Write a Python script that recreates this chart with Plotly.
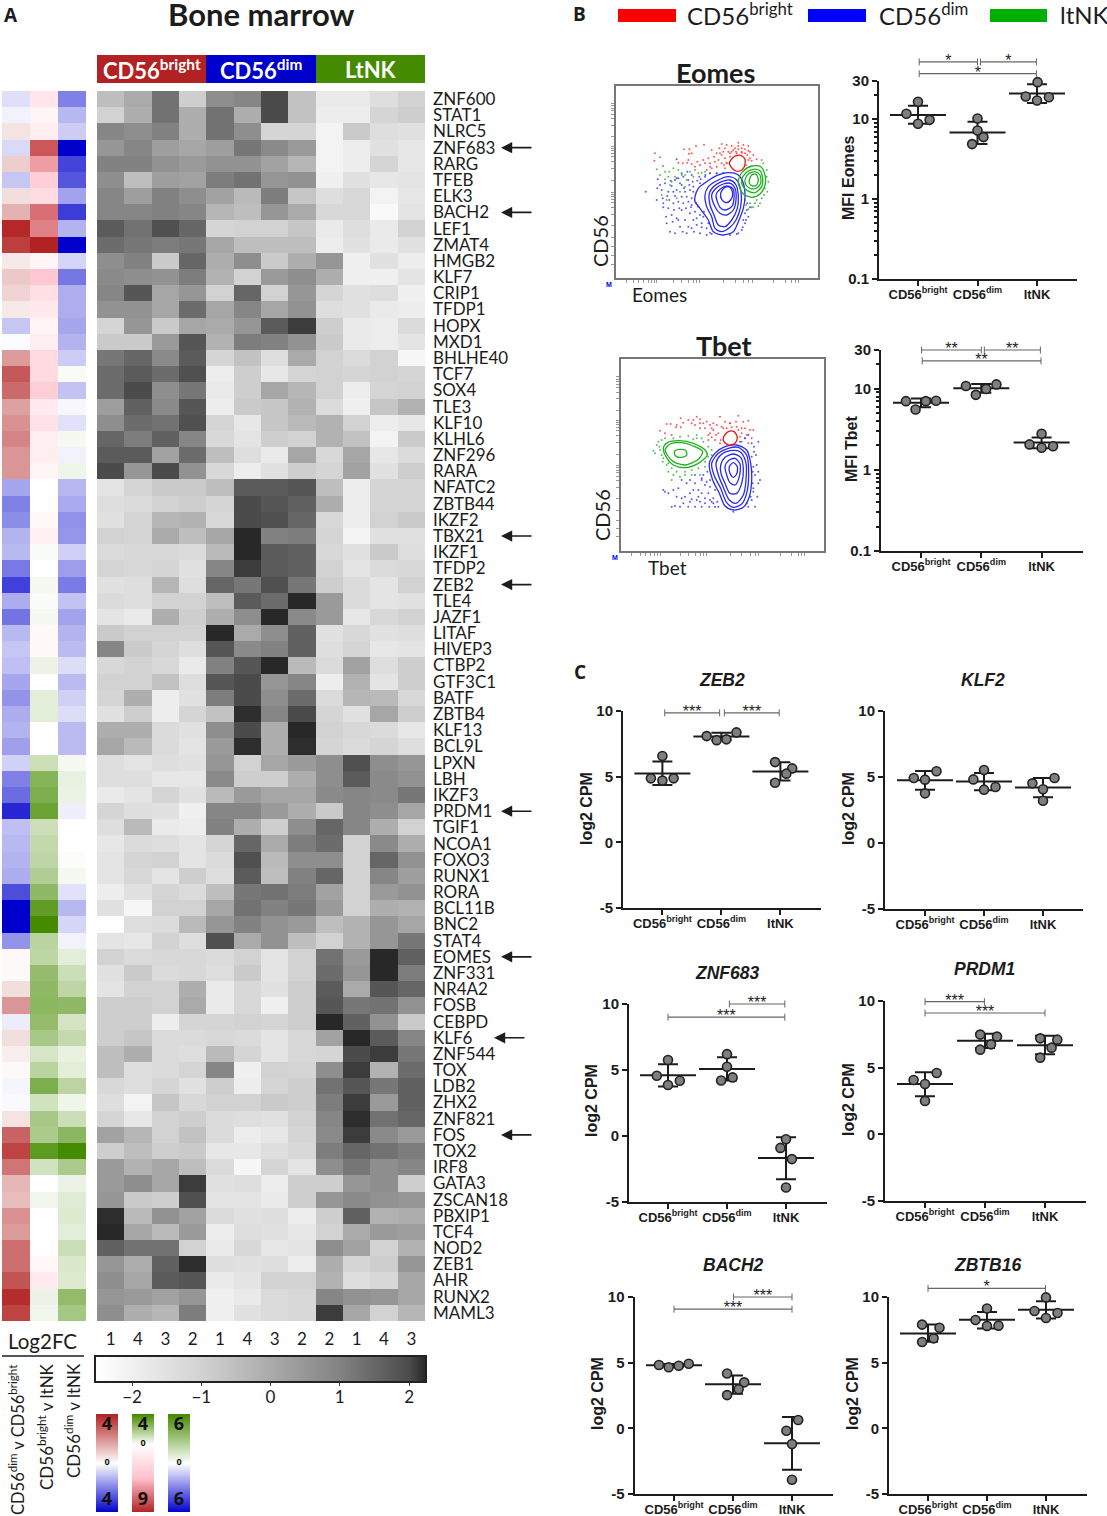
import plotly.graph_objects as go

W = 1107
H = 1516

genes = ["ZNF600","STAT1","NLRC5","ZNF683","RARG","TFEB","ELK3","BACH2","LEF1","ZMAT4","HMGB2","KLF7",
         "CRIP1","TFDP1","HOPX","MXD1","BHLHE40","TCF7","SOX4","TLE3","KLF10","KLHL6","ZNF296","RARA",
         "NFATC2","ZBTB44","IKZF2","TBX21","IKZF1","TFDP2","ZEB2","TLE4","JAZF1","LITAF","HIVEP3","CTBP2",
         "GTF3C1","BATF","ZBTB4","KLF13","BCL9L","LPXN","LBH","IKZF3","PRDM1","TGIF1","NCOA1","FOXO3",
         "RUNX1","RORA","BCL11B","BNC2","STAT4","EOMES","ZNF331","NR4A2","FOSB","CEBPD","KLF6","ZNF544",
         "TOX","LDB2","ZHX2","ZNF821","FOS","TOX2","IRF8","GATA3","ZSCAN18","PBXIP1","TCF4","NOD2",
         "ZEB1","AHR","RUNX2","MAML3"]
sample_labels = ["1","4","3","2","1","4","3","2","2","1","4","3"]
arrow_genes = ["ZNF683","BACH2","TBX21","ZEB2","PRDM1","EOMES","KLF6","FOS"]

# z scores, one row per gene: 4 bright, 4 dim, 4 ltNK
heat_z = [
 [-0.5,0.0,1.3,-0.9,0.7,0.9,2.0,-0.6,-1.8,-1.8,-1.4,-1.0],
 [-1.0,-0.1,1.3,-0.1,1.3,-0.1,2.0,-0.6,-1.9,-1.9,-1.1,-0.9],
 [0.9,0.7,1.0,-0.1,1.3,0.7,-1.1,-1.1,-2.1,-0.8,-1.4,-1.5],
 [0.5,0.9,0.3,0.1,0.3,1.2,0.8,0.4,-2.1,-1.9,-1.5,-1.7],
 [1.0,1.0,0.6,0.4,0.6,0.6,0.2,-0.3,-2.1,-1.9,-1.1,-1.7],
 [0.7,-0.5,0.3,0.2,1.1,1.3,0.5,0.6,-2.0,-1.5,-1.7,-1.6],
 [0.9,0.3,1.0,0.7,0.2,-0.4,1.1,-0.7,-1.4,-1.2,-2.1,-1.7],
 [0.9,0.9,1.0,0.9,-0.3,-0.5,0.5,0.0,-1.2,-1.2,-2.3,-1.6],
 [1.7,1.3,1.9,1.5,-1.1,-1.0,-1.0,-0.7,-1.8,-1.4,-1.8,-1.0],
 [1.4,1.2,1.1,1.2,0.1,-0.5,-0.5,-0.5,-1.9,-1.5,-1.8,-1.5],
 [0.7,1.0,-0.8,1.5,-0.1,0.7,-0.8,-0.1,0.5,-2.0,-1.5,-1.9],
 [0.8,0.7,0.6,1.1,-0.2,-1.0,0.4,0.7,-0.1,-2.0,-2.0,-1.6],
 [0.9,1.8,0.1,0.5,-1.0,1.5,-1.0,0.5,-1.1,-1.5,-1.4,-2.0],
 [0.6,0.6,0.1,1.4,0.1,0.9,0.1,0.6,-1.4,-1.5,-1.8,-1.9],
 [-1.1,0.5,-0.8,0.1,0.0,0.5,1.7,2.1,-0.9,-1.8,-1.9,-1.3],
 [-0.8,-0.8,0.4,1.8,-0.2,1.1,1.0,0.6,-0.8,-1.8,-1.9,-1.6],
 [1.2,1.5,0.8,1.7,-1.1,-0.6,-1.4,0.0,-1.0,-1.3,-1.0,-2.2],
 [1.4,1.7,1.4,1.9,-1.9,-0.9,-1.7,-1.1,-1.0,-1.1,-1.0,-1.1],
 [1.4,2.0,0.7,1.2,-1.8,-0.9,0.1,-0.3,-1.0,-1.9,-1.1,-1.0],
 [0.3,1.6,0.8,1.8,-1.9,-0.8,-0.7,-0.2,-1.3,-2.0,-0.7,-0.2],
 [0.7,1.4,1.3,1.9,-1.1,-1.7,-0.7,-0.4,-0.2,-1.0,-1.9,-1.7],
 [1.5,1.1,1.6,0.9,-1.2,-1.6,-0.9,-1.0,-0.2,-0.6,-2.1,-0.8],
 [1.7,1.7,0.2,1.4,-0.5,-1.4,-1.8,0.1,-1.2,0.1,-1.7,-1.3],
 [2.0,0.5,2.0,0.6,-1.2,-1.9,-1.5,-0.9,-1.1,0.2,-1.5,-0.9],
 [-1.6,-1.1,-0.8,-0.8,-0.5,1.7,1.7,1.8,-0.5,-1.9,-1.1,-1.1],
 [-1.4,-1.3,-1.0,-0.9,-1.1,2.0,1.8,1.6,-0.1,-1.9,-1.1,-1.1],
 [-1.5,-1.1,-0.3,-0.2,-1.2,2.0,1.9,1.5,-1.2,-1.9,-1.0,-0.8],
 [-1.0,-1.1,0.0,-0.5,0.1,2.4,1.0,1.1,-1.1,-2.1,-1.5,-1.5],
 [-1.3,-1.2,-1.2,-1.3,-0.4,2.6,1.7,1.6,-1.2,-1.5,-0.8,-1.4],
 [-1.1,-1.2,-1.1,-1.5,0.9,2.1,1.7,1.6,-1.0,-1.6,-1.3,-1.2],
 [-1.5,-1.4,-0.3,-1.4,1.5,1.2,1.9,1.2,-0.9,-1.3,-1.6,-1.0],
 [-1.3,-1.4,-1.0,-1.0,-0.5,1.7,1.4,2.3,0.4,-1.3,-1.6,-1.5],
 [-1.6,-1.8,-0.1,-0.9,-0.1,0.7,2.6,0.8,0.4,-1.7,-1.2,-1.0],
 [-0.8,-1.0,-1.0,-1.0,3.0,0.0,0.7,1.6,-1.5,-1.2,-1.5,-1.4],
 [0.9,-0.8,-1.1,-1.4,1.8,0.8,1.0,1.6,-1.4,-1.1,-1.7,-1.6],
 [-1.2,-1.0,-1.2,-1.8,1.0,1.8,2.3,-0.4,-1.3,0.2,-1.4,-0.9],
 [-1.0,-1.0,-0.6,-1.4,1.8,2.0,0.5,0.9,-1.9,-0.2,-1.6,-0.9],
 [-1.1,-0.1,-1.9,-1.5,1.1,2.0,0.7,1.4,-1.3,-0.3,-0.4,-1.2],
 [-1.5,-0.9,-1.9,-1.1,-0.6,2.2,0.9,2.0,-1.1,-1.5,0.1,-0.9],
 [-0.1,-0.1,-1.3,-1.5,0.7,2.0,-0.1,2.5,-1.0,-1.2,-1.3,-1.7],
 [0.1,-0.4,-1.3,-1.6,0.4,2.2,-0.1,2.2,-1.1,-1.3,-1.1,-1.4],
 [-1.4,-1.6,-1.4,-1.5,0.5,-1.0,0.1,0.4,0.7,1.9,0.7,0.5],
 [-1.4,-1.4,-1.7,-1.7,0.8,-0.9,-0.9,-0.1,0.7,1.7,0.8,0.6],
 [-1.8,-1.6,-1.1,-1.5,-0.4,0.4,0.1,0.1,0.8,0.9,0.8,1.2],
 [-1.1,-1.4,-1.5,-2.0,0.9,0.9,0.4,-0.1,-0.8,0.9,0.7,0.1],
 [-1.4,-0.4,-1.8,-1.9,1.0,-0.1,-0.9,0.7,1.5,0.9,-0.1,-1.0],
 [-1.7,-1.3,-1.4,-1.6,-1.1,1.5,0.0,1.1,1.4,-1.0,0.8,-0.1],
 [-1.6,-1.1,-1.0,-1.6,-1.3,1.9,-0.4,0.7,0.7,-1.0,1.5,0.6],
 [-1.6,-1.2,-1.6,-0.9,-1.4,1.7,-0.5,1.0,1.5,-1.0,0.9,0.3],
 [-1.9,-1.5,-1.1,-1.3,-0.5,1.2,1.3,1.1,0.2,-1.0,0.4,0.6],
 [-1.5,-2.2,-1.0,-1.0,0.1,1.3,1.0,1.2,0.4,-1.0,-0.1,-0.2],
 [-2.5,-1.4,-1.3,-0.4,0.5,1.0,0.6,0.4,-0.5,-0.2,0.5,0.1],
 [-1.6,-1.7,-1.0,-1.4,1.9,0.0,0.6,-0.5,-1.0,-0.2,0.5,1.2],
 [-1.0,-1.3,-1.2,-1.2,-1.3,-1.0,-1.6,-1.0,1.3,0.4,2.5,1.6],
 [-1.5,-0.8,-1.3,-1.2,-1.4,-0.8,-1.6,-1.0,1.4,0.5,2.5,1.1],
 [-1.6,-1.0,-1.0,-0.1,-1.8,-1.2,-1.5,-0.9,1.7,0.0,1.8,1.5],
 [-0.9,-0.9,-1.0,0.0,-1.8,-1.2,-2.0,-0.9,1.8,1.2,1.3,0.6],
 [-0.9,-0.9,-1.9,-1.1,-1.1,-1.0,-1.1,-0.9,3.0,1.6,0.6,-0.8],
 [-0.9,-0.7,-1.3,-1.3,-1.2,-1.3,-1.6,-1.2,0.2,2.5,1.7,0.9],
 [-0.5,-0.1,-1.3,-1.4,-0.4,-1.1,-1.6,-1.2,-1.1,2.0,2.1,1.2],
 [-0.5,-1.4,-1.3,-1.1,0.9,-2.0,-1.0,-1.1,0.7,2.1,-0.2,1.4],
 [-1.2,-1.4,-1.1,-1.5,-0.9,-1.9,-1.1,-0.9,1.3,1.8,1.2,1.6],
 [-1.4,-2.1,-0.7,-1.2,-1.0,-1.0,-0.8,-0.9,1.1,2.1,0.4,1.6],
 [-1.1,-1.7,-1.0,-0.9,-1.3,-1.4,-1.5,-1.0,0.9,2.2,1.3,1.5],
 [0.2,-0.3,-1.0,-0.6,-1.3,-1.9,-1.7,-1.1,0.8,2.1,0.8,0.4],
 [-0.9,-0.5,-0.9,-0.8,-1.7,-1.7,-1.4,-1.2,1.1,1.5,1.3,1.1],
 [0.4,-0.2,0.1,-0.5,-1.3,-2.2,-1.1,-1.6,0.7,1.2,0.7,0.9],
 [0.4,0.7,0.1,2.1,-1.5,-1.4,-1.9,-0.9,-0.9,0.5,0.7,-0.9],
 [0.5,-0.8,-0.9,1.9,-1.6,-1.6,-1.8,-0.9,0.5,0.8,0.6,0.5],
 [2.2,-0.4,0.6,0.2,-1.3,-1.5,-1.4,-1.9,-0.9,1.6,-0.2,-0.1],
 [2.6,0.1,-0.4,0.4,-1.9,-1.4,-1.5,-1.7,-1.0,0.0,0.4,0.3],
 [1.6,1.3,1.3,-1.0,-1.8,-1.2,-1.7,-1.6,0.7,0.2,-1.0,-0.2],
 [0.5,-0.1,1.6,2.2,-1.4,-1.5,-1.4,-1.9,-0.1,-1.1,-0.9,0.5],
 [0.7,0.1,1.7,1.8,-1.8,-1.6,-1.0,-1.0,-0.2,-1.4,-1.2,0.1],
 [0.5,0.4,0.2,0.5,-2.0,-1.8,-1.3,-1.2,0.9,0.6,0.5,0.1],
 [0.7,-0.1,-0.3,1.1,-2.0,-1.5,-1.3,-1.2,2.1,0.1,-1.0,-0.3],
]

# log2FC columns
fc_dim_bright = [-0.5,-0.2,0.5,-0.6,0.9,-0.9,0.6,1.4,3.9,3.5,0.4,1.0,0.8,0.4,-0.9,-0.05,1.8,3.0,2.7,1.7,2.0,2.2,1.9,1.9,
                 -1.4,-2.0,-1.8,-1.2,-1.1,-2.1,-3.0,-1.3,-2.2,-1.1,-0.9,-1.0,-1.4,-1.7,-1.3,-1.2,-1.5,-0.7,-2.0,-2.3,-3.4,
                 -1.0,-1.1,-1.2,-1.3,-2.8,-4.0,-4.0,-1.7,0.1,0.1,0.6,1.9,-0.3,0.6,0.3,0.1,-0.15,-0.1,0.5,2.8,3.4,2.5,1.3,1.2,
                 2.0,1.8,2.6,2.6,3.1,3.8,3.4]
fc_bright_lt = [-1.8,-0.8,-1.2,-7.5,-5.5,-3.5,-2.5,-6.8,-6.3,-9.0,-0.8,-4.0,-2.3,-1.6,-0.7,-1.2,-2.6,-2.6,-3.6,-1.4,-2.1,-1.2,-1.3,-0.8,
                -0.1,-0.1,-0.5,-1.0,0.1,-0.05,0.2,0.1,0.2,-0.4,-0.4,0.4,0.0,0.6,0.6,-0.05,0.0,1.1,2.6,2.8,3.2,
                1.1,1.3,1.4,1.7,2.4,3.4,4.0,1.5,1.4,2.3,2.4,2.5,2.3,1.9,0.9,1.5,2.8,1.0,1.9,1.8,3.5,1.0,-0.1,0.3,
                -0.15,-0.1,-0.15,-0.6,-1.4,0.4,0.3]
fc_dim_lt = [-3.0,-1.7,-1.2,-6.0,-4.4,-4.0,-2.2,-4.6,-1.8,-6.0,-1.0,-3.2,-1.9,-1.9,-2.1,-1.8,-1.2,0.2,-1.4,-0.2,-0.7,0.3,-0.3,0.5,
             -1.7,-2.0,-2.6,-2.5,-1.1,-2.3,-3.1,-1.4,-2.2,-1.8,-1.6,-0.8,-1.6,-1.1,-0.8,-1.6,-1.6,0.3,0.7,0.6,-0.4,
             0.0,0.0,0.1,0.3,-0.7,-1.7,-1.0,-0.3,0.9,1.7,2.1,3.6,1.4,1.9,0.7,0.9,2.2,0.5,1.7,3.7,6.0,2.7,0.6,1.0,
             1.1,0.9,1.7,1.2,1.1,3.5,2.9]

# gray colour scale stops of the z score bar
gray_z = [-2.52,-2,-1,0,1,2,2.23]
gray_level = [255,240,210,170,130,75,40]

# flow plots, channels
eomes_red_x = [135,150,133,159,222,238,258,282,237,245,205,218,232,245,262,280,295,305,315,328,335,350,365,385,340,335,345,355,370,380,385,395,405,415,420,430,412,425,440,335,320,305,290,345,350,408,300,312,325,360,395,
               345,360,375,385,395,400,415,420,350,365,378,405,415,330,342,320,300,285,270,255,235]
eomes_red_y = [100,112,122,138,88,88,78,74,101,100,128,130,128,132,125,120,115,90,125,85,72,75,78,68,95,105,115,95,90,100,88,85,88,78,95,105,105,122,118,130,140,145,150,145,128,135,130,110,120,110,95,
               85,100,85,78,98,75,92,115,130,95,95,100,120,100,135,100,140,130,135,140,120]
eomes_green_x = [140,165,178,190,205,215,240,255,275,300,320,165,185,180,155,200,170,210,230,455,460,470,475,472,455,440,420,430,415,445,408,462,225,250,
                 150,175,195,225,265,285,435,450,425,405,470,465]
eomes_green_y = [148,155,155,145,150,165,155,150,158,160,160,178,185,195,225,235,240,215,180,120,130,150,185,215,235,240,250,262,268,258,255,225,200,170,
                 165,170,170,165,160,155,250,250,262,240,170,205]
eomes_blue_x = [107,143,142,155,158,140,160,175,190,200,182,195,205,220,235,245,215,200,225,240,205,220,235,245,215,200,185,170,180,195,210,225,240,255,260,275,245,230,270,290,300,265,245,230,215,190,175,260,280,250,410,415,405,395,385,360,405,400,270,250,
                150,165,172,185,195,210,222,238,250,262,272,285,160,178,192,208,228,243,258,270,282,295,168,188,205,218,235,252,275,290,305,200,215,232,248,268,286,300,320,340,380,398,412,420,408]
eomes_blue_y = [215,178,205,210,235,240,262,265,250,118,182,180,175,170,180,165,195,210,215,210,245,250,245,235,270,295,285,310,335,340,320,300,280,275,295,310,325,340,340,325,338,260,255,230,230,215,215,315,290,300,270,290,310,330,340,345,280,300,190,200,
                195,190,228,198,228,190,205,195,215,182,178,170,250,240,270,265,265,262,248,285,275,310,290,305,300,335,320,335,322,345,342,175,160,155,185,170,165,160,160,158,342,322,250,262,300]
eomes_blue_lines = [
 ([255,265,290,320,355,385,400,405,400,385,370,340,310,295,270,255,255],[230,205,185,167,158,165,190,230,265,305,335,345,335,300,265,245,230]),
 ([285,295,325,355,380,393,392,378,360,335,315,305,290,285],[225,200,180,170,180,215,260,300,322,335,325,290,260,225]),
 ([298,310,335,360,378,385,382,365,345,325,312,300,298],[220,200,185,180,195,230,265,300,320,315,285,255,220]),
 ([305,318,340,362,375,378,370,350,330,315,305],[225,205,192,190,205,240,270,285,280,260,225]),
 ([318,330,350,368,372,365,345,330,318],[225,208,198,205,235,260,270,262,225]),
 ([332,345,360,368,362,348,335,332],[220,202,202,220,240,248,238,220]),
]
eomes_red_lines = [
 ([358,372,392,405,403,390,372,358],[130,110,106,118,140,153,150,130]),
]
eomes_green_lines = [
 ([385,398,425,452,465,465,450,425,400,388,385],[180,155,138,140,165,195,222,232,222,200,180]),
 ([395,408,430,450,458,455,435,412,398,395],[180,158,148,152,175,200,218,212,198,180]),
 ([405,415,435,450,452,438,420,408,405],[180,162,155,165,190,205,205,195,180]),
 ([418,425,438,445,440,428,418,418],[180,165,163,178,195,198,190,180]),
]
eomes_ticks_x = [50,70,85,100,115,125,133,138,190,215,235,250,260,267,340,375,400,415,426,490,525,545,555,564]
eomes_ticks_y = [-50,-43,-36,-28,-18,-5,15,50,78,85,92,100,110,125,145,180,216,223,230,238,248,262,282,316,351,380,405,432]

tbet_red_x = [110,122,152,138,152,90,105,125,185,190,200,210,220,230,240,250,270,285,300,325,340,355,345,360,370,350,365,335,355,250,265,240,255,270,235,320,335,280,210,
              245,260,275,290,305,325,335,345,258,272,300,318,330,225,235,245,210,195,175,160,140]
tbet_red_y = [72,72,55,82,82,92,100,105,70,60,50,58,70,65,75,70,50,65,70,47,65,62,85,90,90,105,115,125,130,90,100,100,120,130,120,80,100,85,85,
              85,75,80,85,82,90,85,115,105,120,70,65,110,85,105,112,70,75,60,68,75]
tbet_green_x = [70,85,88,95,98,110,125,115,140,165,185,205,225,130,150,175,190,200,220,235,245,215,80,150,185,210,125,
                75,95,105,115,90,100,130,165,200,225,235,245]
tbet_green_y = [152,125,140,165,185,195,205,215,215,215,210,205,200,115,110,108,118,105,125,140,150,115,135,230,225,225,240,
                160,120,115,190,150,175,225,225,115,185,170,165]
tbet_blue_x = [100,105,125,135,130,145,155,175,185,200,215,225,235,245,255,155,170,195,215,225,205,220,355,375,365,370,385,375,370,365,385,372,380,368,350,240,265,
               115,140,150,165,180,190,205,215,230,240,250,262,160,180,195,210,225,238,365,372,378,385,368,362,390,355,345,330,310,250,240,195,215,232,180,255,370,382]
tbet_blue_y = [270,275,320,318,270,265,295,320,298,300,320,295,280,305,320,240,250,250,240,255,270,225,320,320,300,275,250,225,200,170,125,155,195,250,310,260,320,
               280,290,320,290,280,270,290,280,245,240,295,305,310,305,320,305,310,320,130,140,165,215,215,290,240,105,115,125,335,310,300,225,235,215,240,270,265,290]
tbet_blue_lines = [
 ([238,255,285,320,350,362,365,358,340,310,285,268,248,238],[190,160,140,135,150,190,240,290,322,330,318,280,240,190]),
 ([245,265,295,325,350,356,350,335,310,290,272,252,245],[190,160,145,142,165,220,280,312,322,308,265,225,190]),
 ([258,272,300,330,347,348,340,318,298,280,265,258],[190,165,152,155,185,240,285,310,300,262,225,190]),
 ([272,285,310,332,340,335,320,300,285,273,272],[195,172,162,172,205,250,280,280,250,220,195]),
 ([285,295,315,330,328,315,300,290,285],[200,182,175,192,230,255,248,225,200]),
 ([298,310,322,320,310,300,298],[200,188,200,222,232,220,200]),
]
tbet_red_lines = [
 ([280,295,312,322,315,295,282,280],[112,95,95,112,130,135,125,112]),
]
tbet_green_lines = [
 ([100,112,150,190,225,232,205,165,130,108,100],[145,128,122,130,150,165,190,203,195,170,145]),
 ([105,120,155,190,218,205,165,130,112,105],[150,132,128,138,155,178,195,185,165,150]),
 ([133,135,150,168,170,155,140,133],[160,152,148,152,165,172,170,160]),
]
tbet_ticks_x = [5,30,45,60,72,82,92,150,175,195,210,220,228,300,335,360,375,384,450,485,505,515,522]
tbet_ticks_y = [-70,-62,-55,-47,-37,-24,-4,30,60,67,74,82,92,107,127,162,196,203,210,218,228,242,262,296,332,360,385,410]

# dot plots: values, jitter, mean and SD limits per group
group_labels = ["CD56<sup>bright</sup>","CD56<sup>dim</sup>","ltNK"]

eomes_vals = [[16.5,11.7,9.8,8.75],[10.2,7.2,5.96,4.87],[29,19.2,18.8,17.1]]
eomes_off = [[0,-0.195,0.195,0],[0,0,0.1,-0.09],[0.01,-0.19,0.2,0]]
eomes_mean = [11.3,6.8,20.9]
eomes_top = [14.7,9.3,27.4]
eomes_bot = [8.75,4.9,15.9]
eomes_brk = [(0.02,1,52,"*"),(1.05,1.99,52,"*"),(0.02,1.99,37,"*")]

tbet_vals = [[7.03,7.03,7.1,5.54],[10.8,11.3,9.9,8.4],[2.79,2.06,1.95,1.87]]
tbet_off = [[-0.25,0.08,0.25,-0.09],[-0.255,0.25,0.08,-0.09],[0,-0.2,0.19,0]]
tbet_mean = [6.7,10.1,2.18]
tbet_top = [7.6,11.4,2.5]
tbet_bot = [5.9,8.9,1.84]
tbet_brk = [(0.01,1,30,"**"),(1.05,1.98,30,"**"),(0.02,1.99,22,"**")]

zeb2_vals = [[6.57,4.87,4.87,4.7],[8.09,7.78,7.84,8.37],[6.11,5.63,5.23,4.54]]
zeb2_off = [[0,-0.195,0.19,0],[-0.25,-0.08,0.085,0.255],[-0.09,0.2,0.1,-0.09]]
zeb2_mean = [5.25,8.05,5.4]
zeb2_top = [6.15,8.34,6.1]
zeb2_bot = [4.37,7.78,4.7]
zeb2_brk = [(0.04,0.97,9.86,"***"),(1.05,1.98,9.86,"***")]

klf2_vals = [[4.92,5.43,4.8,3.76],[4.82,5.53,4.04,4.24],[4.52,4.92,4.07,3.2]]
klf2_off = [[-0.19,0.195,0,0],[-0.18,0,0,0.195],[-0.18,0.195,0,0]]
klf2_mean = [4.75,4.65,4.2]
klf2_top = [5.45,5.3,4.92]
klf2_bot = [4.04,4.0,3.46]
klf2_brk = []

znf683_vals = [[5.76,4.57,4.19,3.86],[6.2,5.25,4.44,4.2],[-0.25,-0.9,-1.75,-3.9]]
znf683_off = [[0,-0.19,0.2,0],[0,0,0.095,-0.1],[0,-0.095,0.1,0]]
znf683_mean = [4.6,5.08,-1.67]
znf683_top = [5.43,5.96,-0.1]
znf683_bot = [3.75,4.2,-3.27]
znf683_brk = [(1.04,1.98,10,"***"),(0,1.98,9,"***")]

prdm1_vals = [[4.07,4.6,3.77,2.5],[7.48,7.33,6.75,6.35],[7.2,7.1,6.5,5.75]]
prdm1_off = [[-0.19,0.195,0,0],[-0.08,0.2,0.1,-0.08],[-0.08,0.205,0.11,-0.08]]
prdm1_mean = [3.77,7.02,6.68]
prdm1_top = [4.65,7.55,7.4]
prdm1_bot = [2.86,6.47,6.0]
prdm1_brk = [(0,0.99,9.95,"***"),(0,2,9.1,"***")]

bach2_vals = [[4.82,4.65,4.77,4.92],[4.17,3.5,2.98,2.53],[0.63,-0.18,-1.19,-3.92]]
bach2_off = [[-0.255,-0.09,0.08,0.25],[-0.1,0.19,0.095,-0.1],[0.105,-0.095,0,0]]
bach2_mean = [4.8,3.35,-1.14]
bach2_top = [4.9,4.02,0.86]
bach2_bot = [4.68,2.63,-3.16]
bach2_brk = [(1.01,2,10,"***"),(0,2,9.07,"***")]

zbtb16_vals = [[7.9,7.66,6.85,6.57],[9.13,8.25,7.8,7.82],[9.97,8.93,8.78,8.4]]
zbtb16_off = [[-0.1,0.195,0.095,-0.1],[0,-0.195,0,0.195],[0,-0.195,0.195,0]]
zbtb16_mean = [7.23,8.27,9.03]
zbtb16_top = [7.9,8.86,9.67]
zbtb16_bot = [6.6,7.6,8.37]
zbtb16_brk = [(0,1.99,10.65,"*")]

LATO = "Lato"
ARIAL = "Liberation Sans"
INK = "#1c1c1c"
HIDDEN = dict(showticklabels=False, ticks="", showline=False)

fig = go.Figure()
layout = dict(width=W, height=H, autosize=False, margin=dict(l=0, r=0, t=0, b=0),
              paper_bgcolor="white", plot_bgcolor="rgba(0,0,0,0)", showlegend=False,
              shapes=[], annotations=[])
n_axes = 0


def new_axes(x0, x1, y0, y1, xargs, yargs):
    global n_axes
    n_axes += 1
    n = n_axes
    # automargin off, the default template would shrink the page otherwise
    base = dict(showgrid=False, zeroline=False, automargin=False)
    layout[f"xaxis{n}"] = dict(base, domain=[x0 / W, x1 / W], anchor=f"y{n}", **xargs)
    layout[f"yaxis{n}"] = dict(base, domain=[1 - y1 / H, 1 - y0 / H], anchor=f"x{n}", **yargs)
    return f"x{n}", f"y{n}"


# whole page axes in pixels, paper referenced notes near the edge would push the margins
PAGE_X, PAGE_Y = new_axes(0, W, 0, H, dict(range=[0, W], **HIDDEN), dict(range=[H, 0], **HIDDEN))


def note(x, y, text, size, font=LATO, angle=0, anchor="center", color=INK):
    layout["annotations"].append(dict(x=x, y=y, xref=PAGE_X, yref=PAGE_Y, text=text,
                                      showarrow=False, textangle=angle, xanchor=anchor, yanchor="middle",
                                      font=dict(family=font, size=size, color=color)))


def rect(x0, x1, y0, y1, color):
    layout["shapes"].append(dict(type="rect", xref="paper", yref="paper", x0=x0 / W, x1=x1 / W,
                                 y0=1 - y1 / H, y1=1 - y0 / H, fillcolor=color, line=dict(width=0)))


# main heatmap
gray_scale = [[(z - gray_z[0]) / (gray_z[-1] - gray_z[0]), f"rgb({g},{g},{g})"] for z, g in zip(gray_z, gray_level)]
xa, ya = new_axes(97, 425, 91, 1321,
                  dict(tickmode="array", tickvals=list(range(12)), ticktext=sample_labels, ticks="",
                       ticklabelstandoff=6, tickangle=0,
                       tickfont=dict(family=LATO, size=17, color=INK), side="bottom"),
                  dict(type="category", autorange="reversed", side="right", tickmode="array", tickvals=genes,
                       ticktext=genes, ticks="", ticklabelstandoff=7,
                       tickfont=dict(family=LATO, size=17, color=INK)))
fig.add_trace(go.Heatmap(z=heat_z, x=list(range(12)), y=genes, xaxis=xa, yaxis=ya, colorscale=gray_scale,
                         zmin=gray_z[0], zmax=gray_z[-1], showscale=False))

for gene in arrow_genes:
    x_tip = 494 if gene == "KLF6" else 501
    layout["annotations"].append(dict(x=x_tip, y=gene, xref=PAGE_X, yref=ya, ax=32, ay=0, axref="pixel",
                                      ayref="pixel", text="", showarrow=True, arrowhead=2, arrowsize=1.4,
                                      arrowwidth=1.6, arrowcolor=INK))

# z score bar
xa, ya = new_axes(96, 425, 1357, 1381,
                  dict(range=[gray_z[0], gray_z[-1]], showline=True, mirror=True, linecolor="#222222", linewidth=2,
                       tickmode="array", tickvals=[-2, -1, 0, 1, 2], ticktext=["\u22122", "\u22121", "0", "1", "2"],
                       ticks="outside", ticklen=3, tickangle=0, ticklabelstandoff=-3,
                       tickfont=dict(family=LATO, size=17, color=INK)),
                  dict(range=[0, 1], showline=True, mirror=True, linecolor="#222222", linewidth=2,
                       showticklabels=False, ticks=""))
fig.add_trace(go.Heatmap(z=[gray_z, gray_z], x=gray_z, y=[0, 1], xaxis=xa, yaxis=ya, colorscale=gray_scale,
                         zmin=gray_z[0], zmax=gray_z[-1], showscale=False, zsmooth="best"))

# log2FC columns
fc_scales = [
    (fc_dim_bright, -4, 4, [[0, "#0000cd"], [0.5, "#ffffff"], [1, "#b22222"]]),
    (fc_bright_lt, -9, 4, [[0, "#b22222"], [4.5 / 13, "#ffc0cb"], [9 / 13, "#ffffff"], [1, "#458b00"]]),
    (fc_dim_lt, -6, 6, [[0, "#0000cd"], [0.5, "#ffffff"], [1, "#458b00"]]),
]
xa, ya = new_axes(2, 86, 91, 1321, dict(range=[-0.5, 2.5], **HIDDEN),
                  dict(type="category", autorange="reversed", **HIDDEN))
for i, (vals, lo, hi, scale) in enumerate(fc_scales):
    fig.add_trace(go.Heatmap(z=[[v] for v in vals], x=[i], y=genes, xaxis=xa, yaxis=ya, colorscale=scale,
                             zmin=lo, zmax=hi, showscale=False))

# group header
header_names = ["CD56<sup>bright</sup>", "CD56<sup>dim</sup>", "LtNK"]
header_colors = ["#b22222", "#0000cd", "#458b00"]
header_edges = [97, 206, 316, 425]
for i in range(3):
    rect(header_edges[i], header_edges[i + 1], 55, 83, header_colors[i])
    note((header_edges[i] + header_edges[i + 1]) / 2, 69, f"<b>{header_names[i]}</b>", 22, color="white")

note(261, 14, "<b>Bone marrow</b>", 31)
note(11, 15, "<b>A</b>", 19, font="Open Sans")
note(579, 14, "<b>B</b>", 19, font="Open Sans")
note(580, 672, "<b>C</b>", 19, font="Open Sans")

# log2FC key
note(42, 1341, "Log2FC", 20.5)
layout["shapes"].append(dict(type="line", xref="paper", yref="paper", x0=2 / W, x1=84 / W, y0=1 - 1356 / H,
                             y1=1 - 1356 / H, line=dict(color=INK, width=1.5)))
note(17, 1440, "CD56<sup>dim</sup> v CD56<sup>bright</sup>", 16.5, angle=-90)
note(45, 1427, "CD56<sup>bright</sup> v ltNK", 17, angle=-90)
note(72, 1421, "CD56<sup>dim</sup> v ltNK", 17, angle=-90)

key_edges = [(96, 118), (132, 154), (168, 190)]
key_z = [[-4, 0, 4], [-9, -4.5, 0, 4], [-6, 0, 6]]
key_text = [["4", "0", "4"], ["9", "0", "4"], ["6", "0", "6"]]
for (x0, x1), zs, (vals, lo, hi, scale), txt in zip(key_edges, key_z, fc_scales, key_text):
    xa, ya = new_axes(x0, x1, 1414, 1512, dict(range=[0, 1], **HIDDEN), dict(range=[lo, hi], **HIDDEN))
    fig.add_trace(go.Heatmap(z=[[v, v] for v in zs], x=[0, 1], y=zs, xaxis=xa, yaxis=ya, colorscale=scale,
                             zmin=lo, zmax=hi, showscale=False, zsmooth="best"))
    step = (hi - lo) * 0.115
    fig.add_trace(go.Scatter(x=[0.5, 0.5, 0.5], y=[lo + step, 0, hi - step], mode="text", text=txt,
                             xaxis=xa, yaxis=ya, textposition="middle center",
                             textfont=dict(family="Open Sans", size=[18, 9, 18], color="#111111", weight="bold")))

# legend of panel B
legend_names = ["CD56<sup>bright</sup>", "CD56<sup>dim</sup>", "ltNK"]
legend_colors = ["#ff0000", "#0000ff", "#00b000"]
legend_rect = [(618, 676), (808, 866), (990, 1047)]
legend_text = [685, 877, 1058]
for name, col, (x0, x1), tx in zip(legend_names, legend_colors, legend_rect, legend_text):
    rect(x0, x1, 9, 22, col)
    note(tx, 14, name, 24, anchor="left")


def flow_panel(box, zoom_x, zoom_y, ticks_x, ticks_y, red, green, blue, red_lines, green_lines, blue_lines):
    xa, ya = new_axes(box[0], box[1], box[2], box[3],
                      dict(range=zoom_x, showline=True, mirror=True, linecolor="#777777", linewidth=2, ticks="outside",
                           ticklen=3, tickwidth=1, tickcolor="#999999", tickmode="array", tickvals=ticks_x,
                           showticklabels=False),
                      dict(range=zoom_y, showline=True, mirror=True, linecolor="#777777", linewidth=2, ticks="outside",
                           ticklen=3, tickwidth=1, tickcolor="#999999", tickmode="array", tickvals=ticks_y,
                           showticklabels=False))
    for (dx, dy), col in zip((red, green, blue), ("#ff3030", "#30b030", "#3030ff")):
        fig.add_trace(go.Scatter(x=dx, y=dy, mode="markers", xaxis=xa, yaxis=ya,
                                 marker=dict(size=2, color=col, opacity=0.8)))
    for lines, col in ((blue_lines, "#2a2aee"), (green_lines, "#22b022"), (red_lines, "#ee1111")):
        for lx, ly in lines:
            fig.add_trace(go.Scatter(x=lx, y=ly, mode="lines", xaxis=xa, yaxis=ya,
                                     line=dict(color=col, width=1.3, shape="spline", smoothing=0.8)))


flow_panel((616, 818, 86, 278), [18, 624], [474, -102], eomes_ticks_x, eomes_ticks_y,
           (eomes_red_x, eomes_red_y), (eomes_green_x, eomes_green_y), (eomes_blue_x, eomes_blue_y),
           eomes_red_lines, eomes_green_lines, eomes_blue_lines)
note(715, 72, "<b>Eomes</b>", 27)
note(600, 241, "CD56", 20, angle=-90)
note(659, 294, "Eomes", 19)
note(609, 284, "<b>M</b>", 7, font=ARIAL, color="#0000ee")

flow_panel((621, 824, 359, 551), [-27, 582], [453, -123], tbet_ticks_x, tbet_ticks_y,
           (tbet_red_x, tbet_red_y), (tbet_green_x, tbet_green_y), (tbet_blue_x, tbet_blue_y),
           tbet_red_lines, tbet_green_lines, tbet_blue_lines)
note(724, 345, "<b>Tbet</b>", 27)
note(602, 515, "CD56", 20, angle=-90)
note(667, 567, "Tbet", 19)
note(615, 557, "<b>M</b>", 7, font=ARIAL, color="#0000ee")


def dot_panel(left, right, cat0, spacing, top, bottom, title, title_x, title_y, ytitle, ytitle_x, ytitle_y, yargs,
              vals, off, mean, up, down, brackets):
    axis_style = dict(showline=True, linecolor=INK, linewidth=2, ticks="outside", ticklen=5, tickwidth=2,
                      tickcolor=INK, tickangle=0)
    x_range = [(left - cat0) / spacing, (right - cat0) / spacing]
    xa, ya = new_axes(left, right, top, bottom,
                      dict(axis_style, range=x_range, tickmode="array", tickvals=[0, 1, 2],
                           ticktext=[f"<b>{g}</b>" for g in group_labels], ticklabelstandoff=-3,
                           tickfont=dict(family=ARIAL, size=13, color=INK)),
                      dict(axis_style, tickfont=dict(family=ARIAL, size=15, color=INK), **yargs))
    note(ytitle_x, ytitle_y, f"<b>{ytitle}</b>", 16, font=ARIAL, angle=-90)
    fig.add_trace(go.Scatter(x=[0, 1, 2], y=mean, mode="markers", xaxis=xa, yaxis=ya,
                             marker=dict(symbol="line-ew", size=40, line=dict(width=2, color=INK)),
                             error_y=dict(type="data", symmetric=False,
                                          array=[u - m for u, m in zip(up, mean)],
                                          arrayminus=[m - d for m, d in zip(mean, down)],
                                          color=INK, thickness=2, width=10)))
    for g in range(3):
        fig.add_trace(go.Scatter(x=[g + o for o in off[g]], y=vals[g], mode="markers", xaxis=xa, yaxis=ya,
                                 cliponaxis=False,
                                 marker=dict(size=9, color="#7f7f7f", line=dict(width=1.6, color="#222222"))))
    # significance brackets sit above the axis top, so they get a taller invisible axis pair
    pad = 45
    lo, hi = yargs["range"]
    hi_pad = hi + pad * (hi - lo) / (bottom - top)
    xb, yb_axis = new_axes(left, right, top - pad, bottom, dict(range=x_range, **HIDDEN),
                           dict(type=yargs.get("type", "linear"), range=[lo, hi_pad], **HIDDEN))
    for x0, x1, yb, stars in brackets:
        fig.add_trace(go.Scatter(x=[x0, x1], y=[yb, yb], mode="lines+markers", xaxis=xb, yaxis=yb_axis,
                                 line=dict(color="#666666", width=1.2),
                                 marker=dict(symbol="line-ns", size=5, line=dict(width=1, color="#666666"))))
        fig.add_trace(go.Scatter(x=[(x0 + x1) / 2], y=[yb], mode="text", text=[stars], xaxis=xb, yaxis=yb_axis,
                                 textposition="middle center",
                                 textfont=dict(family=ARIAL, size=16, color="#222222")))
    if title:
        note(title_x, title_y, f"<b><i>{title}</i></b>", 17.5, font=ARIAL)


log_axis = dict(type="log", range=[-1, 1.477], tickmode="array", tickvals=[0.1, 1, 10, 30],
                ticktext=["<b>0.1</b>", "<b>1</b>", "<b>10</b>", "<b>30</b>"],
                minor=dict(tickvals=[0.2, 0.3, 0.4, 0.5, 0.6, 0.7, 0.8, 0.9, 2, 3, 4, 5, 6, 7, 8, 9, 20],
                           ticklen=3, tickwidth=1.5, ticks="outside", tickcolor=INK))
lin_axis = dict(range=[-5, 10], tickmode="array", tickvals=[-5, 0, 5, 10],
                ticktext=["<b>-5</b>", "<b>0</b>", "<b>5</b>", "<b>10</b>"])

dot_panel(879, 1077, 918, 59.5, 81, 279, "", 0, 0, "MFI Eomes", 848, 178, log_axis,
          eomes_vals, eomes_off, eomes_mean, eomes_top, eomes_bot, eomes_brk)
dot_panel(881, 1083, 921, 60.3, 350, 551, "", 0, 0, "MFI Tbet", 851, 449, log_axis,
          tbet_vals, tbet_off, tbet_mean, tbet_top, tbet_bot, tbet_brk)
dot_panel(623, 821, 662.4, 59, 711, 908, "ZEB2", 722, 680, "log2 CPM", 586, 809, lin_axis,
          zeb2_vals, zeb2_off, zeb2_mean, zeb2_top, zeb2_bot, zeb2_brk)
dot_panel(885, 1083, 925, 59, 711, 909, "KLF2", 983, 680, "log2 CPM", 848, 809, lin_axis,
          klf2_vals, klf2_off, klf2_mean, klf2_top, klf2_bot, klf2_brk)
dot_panel(629, 827, 668, 59, 1004, 1202, "ZNF683", 727, 973, "log2 CPM", 591, 1101, lin_axis,
          znf683_vals, znf683_off, znf683_mean, znf683_top, znf683_bot, znf683_brk)
dot_panel(885, 1086, 925, 60, 1001, 1201, "PRDM1", 984, 969, "log2 CPM", 848, 1100, lin_axis,
          prdm1_vals, prdm1_off, prdm1_mean, prdm1_top, prdm1_bot, prdm1_brk)
dot_panel(634.5, 833, 674, 59, 1297, 1494, "BACH2", 733, 1265, "log2 CPM", 597, 1394, lin_axis,
          bach2_vals, bach2_off, bach2_mean, bach2_top, bach2_bot, bach2_brk)
dot_panel(889, 1087, 928, 59, 1297, 1494, "ZBTB16", 987, 1265, "log2 CPM", 852, 1394, lin_axis,
          zbtb16_vals, zbtb16_off, zbtb16_mean, zbtb16_top, zbtb16_bot, zbtb16_brk)

fig.update_layout(**layout)
fig.write_html("out.html", config={"displayModeBar": False}, post_script="document.body.style.margin='0';")
